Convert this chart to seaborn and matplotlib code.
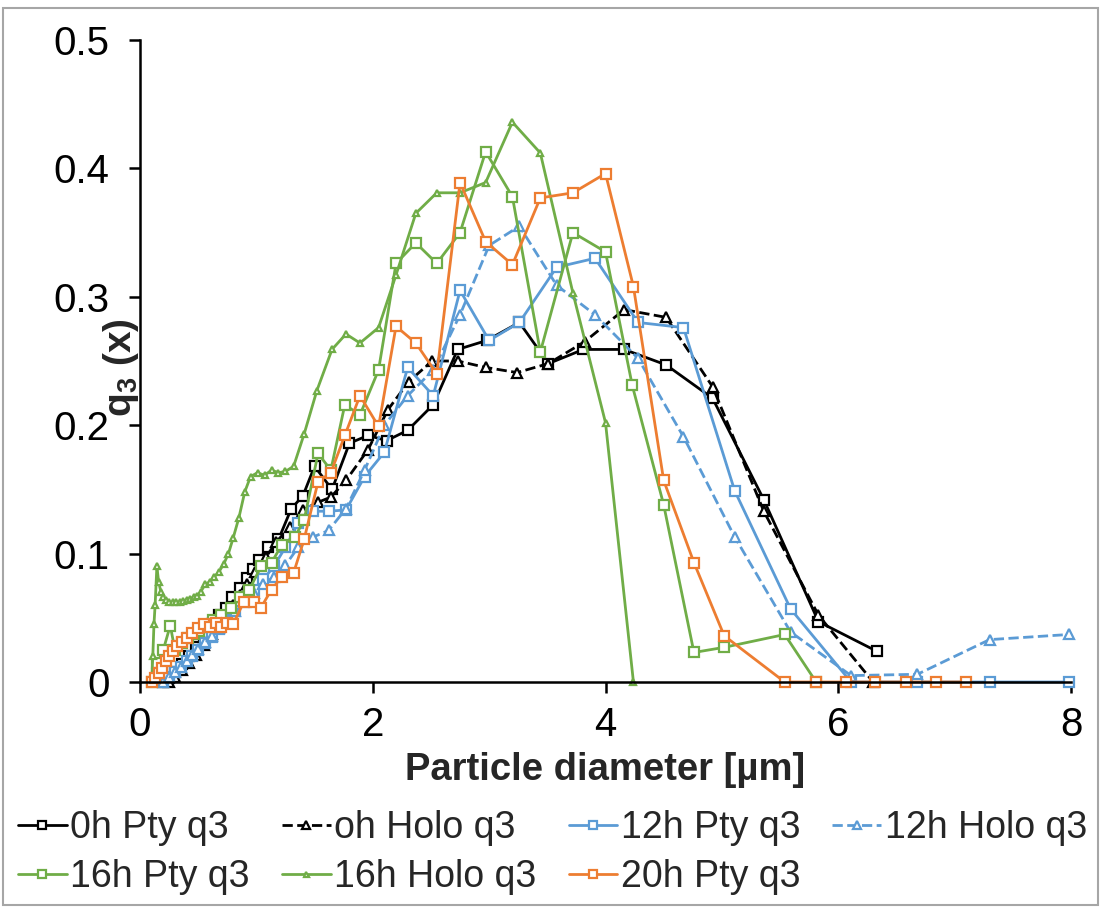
import matplotlib
matplotlib.use("Agg")
import matplotlib.pyplot as plt
import seaborn as sns
from matplotlib.patches import Rectangle

# --- data ---
x_0h_pty = [0.20, 0.25, 0.30, 0.36, 0.42, 0.48, 0.55, 0.62, 0.68, 0.74, 0.79, 0.86, 0.92, 0.97, 1.02,
            1.10, 1.19, 1.30, 1.40, 1.50, 1.65, 1.80, 1.96, 2.12, 2.30, 2.52, 2.73, 2.98, 3.26, 3.51,
            3.81, 4.16, 4.52, 4.92, 5.36, 5.83, 6.33]
y_0h_pty = [0.000, 0.003, 0.008, 0.014, 0.020, 0.027, 0.035, 0.045, 0.052, 0.058, 0.066, 0.073, 0.081,
            0.088, 0.095, 0.105, 0.111, 0.135, 0.145, 0.168, 0.150, 0.186, 0.192, 0.188, 0.196, 0.216,
            0.259, 0.266, 0.280, 0.248, 0.259, 0.259, 0.247, 0.221, 0.142, 0.047, 0.024]

x_0h_holo = [0.25, 0.30, 0.36, 0.42, 0.48, 0.55, 0.62, 0.68, 0.74, 0.80, 0.86, 0.92, 0.99, 1.08, 1.17,
             1.29, 1.40, 1.53, 1.64, 1.77, 1.96, 2.13, 2.31, 2.51, 2.73, 2.97, 3.24, 3.51, 3.82, 4.16,
             4.52, 4.92, 5.36, 5.83, 6.30]
y_0h_holo = [0.000, 0.004, 0.009, 0.015, 0.021, 0.029, 0.037, 0.045, 0.052, 0.060, 0.068, 0.076, 0.086,
             0.097, 0.109, 0.121, 0.134, 0.140, 0.144, 0.157, 0.181, 0.212, 0.234, 0.250, 0.250, 0.245,
             0.241, 0.248, 0.265, 0.290, 0.284, 0.230, 0.133, 0.052, 0.000]

x_12h = [0.20, 0.25, 0.30, 0.35, 0.40, 0.45, 0.50, 0.56, 0.62, 0.68, 0.75, 0.82, 0.90, 0.98, 1.06,
         1.15, 1.25, 1.36, 1.49, 1.62, 1.77, 1.93, 2.10, 2.30, 2.52, 2.75, 3.00, 3.26, 3.58, 3.91,
         4.28, 4.67, 5.11, 5.59, 6.11, 6.68, 7.30, 7.98]
y_12h_pty = [0.000, 0.004, 0.008, 0.012, 0.016, 0.020, 0.025, 0.030, 0.035, 0.041, 0.048, 0.055, 0.063,
             0.072, 0.080, 0.090, 0.105, 0.124, 0.133, 0.133, 0.134, 0.160, 0.179, 0.245, 0.223, 0.305,
             0.266, 0.280, 0.323, 0.330, 0.280, 0.276, 0.149, 0.057, 0.000, 0.000, 0.000, 0.000]
y_12h_holo = [0.000, 0.004, 0.008, 0.012, 0.016, 0.021, 0.026, 0.031, 0.036, 0.042, 0.048, 0.055, 0.062,
              0.069, 0.076, 0.082, 0.091, 0.105, 0.113, 0.118, 0.135, 0.165, 0.200, 0.223, 0.243, 0.286,
              0.340, 0.355, 0.309, 0.286, 0.252, 0.191, 0.113, 0.039, 0.005, 0.006, 0.033, 0.037]

x_16h_pty = [0.10, 0.15, 0.20, 0.26, 0.30, 0.36, 0.41, 0.46, 0.51, 0.57, 0.63, 0.70, 0.78, 0.86, 0.94,
             1.04, 1.13, 1.22, 1.33, 1.41, 1.53, 1.64, 1.76, 1.89, 2.05, 2.20, 2.37, 2.55, 2.75, 2.97,
             3.20, 3.44, 3.72, 4.00, 4.23, 4.50, 4.76, 5.02, 5.54, 5.81]
y_16h_pty = [0.000, 0.015, 0.025, 0.044, 0.025, 0.030, 0.034, 0.037, 0.040, 0.044, 0.048, 0.052, 0.058,
             0.066, 0.072, 0.090, 0.093, 0.107, 0.113, 0.126, 0.178, 0.165, 0.216, 0.208, 0.243, 0.326,
             0.342, 0.326, 0.350, 0.413, 0.378, 0.257, 0.350, 0.335, 0.231, 0.138, 0.023, 0.027, 0.037,
             0.000]

x_16h_holo = [0.10, 0.11, 0.12, 0.13, 0.145, 0.16, 0.18, 0.20, 0.22, 0.25, 0.28, 0.31, 0.34, 0.37, 0.40,
              0.43, 0.46, 0.49, 0.52, 0.56, 0.60, 0.64, 0.68, 0.72, 0.76, 0.80, 0.85, 0.90, 0.95, 1.01,
              1.07, 1.13, 1.19, 1.25, 1.32, 1.41, 1.52, 1.65, 1.77, 1.89, 2.05, 2.20, 2.37, 2.55, 2.75,
              2.97, 3.20, 3.44, 3.72, 4.00, 4.24]
y_16h_holo = [0.000, 0.020, 0.045, 0.060, 0.090, 0.078, 0.070, 0.066, 0.064, 0.062, 0.062, 0.062, 0.062,
              0.063, 0.064, 0.065, 0.066, 0.067, 0.070, 0.076, 0.078, 0.082, 0.086, 0.092, 0.100, 0.112,
              0.128, 0.148, 0.160, 0.163, 0.161, 0.165, 0.163, 0.164, 0.168, 0.193, 0.227, 0.259, 0.271,
              0.264, 0.276, 0.317, 0.365, 0.381, 0.381, 0.389, 0.436, 0.412, 0.303, 0.202, 0.000]

x_20h_pty = [0.10, 0.13, 0.16, 0.19, 0.22, 0.25, 0.28, 0.32, 0.36, 0.40, 0.45, 0.50, 0.55, 0.60, 0.65,
             0.70, 0.75, 0.80, 0.89, 0.98, 1.04, 1.13, 1.22, 1.32, 1.41, 1.53, 1.64, 1.76, 1.89, 2.05,
             2.20, 2.37, 2.55, 2.75, 2.97, 3.20, 3.44, 3.72, 4.00, 4.24, 4.50, 4.76, 5.02, 5.54, 5.81,
             6.07, 6.32, 6.58, 6.84, 7.10]
y_20h_pty = [0.000, 0.003, 0.007, 0.011, 0.016, 0.020, 0.024, 0.028, 0.031, 0.034, 0.038, 0.042, 0.045,
             0.043, 0.046, 0.043, 0.046, 0.045, 0.062, 0.062, 0.058, 0.072, 0.082, 0.085, 0.111, 0.156,
             0.163, 0.192, 0.223, 0.199, 0.277, 0.264, 0.240, 0.389, 0.343, 0.325, 0.377, 0.381, 0.396,
             0.308, 0.157, 0.093, 0.036, 0.000, 0.000, 0.000, 0.000, 0.000, 0.000, 0.000]

x_ticks = [0, 2, 4, 6, 8]
x_tick_labels = ["0", "2", "4", "6", "8"]
y_ticks = [0, 0.1, 0.2, 0.3, 0.4, 0.5]
y_tick_labels = ["0", "0.1", "0.2", "0.3", "0.4", "0.5"]

BLACK = "#000000"
BLUE = "#5B9BD5"
GREEN = "#70AD47"
ORANGE = "#ED7D31"

sns.set_style("ticks")
plt.rcParams["font.family"] = ["Liberation Sans", "DejaVu Sans"]
plt.rcParams["mathtext.fontset"] = "custom"
plt.rcParams["mathtext.rm"] = "Liberation Sans"
plt.rcParams["mathtext.bf"] = "Liberation Sans:bold"

fig = plt.figure(figsize=(11.01, 9.09), dpi=100)
ax = fig.add_axes([140 / 1101, 1 - 682 / 909, (1071 - 140) / 1101, (682 - 40) / 909])

series = [
    (x_0h_pty, y_0h_pty, "0h Pty q3", BLACK, "-", "s", 6.5),
    (x_0h_holo, y_0h_holo, "oh Holo q3", BLACK, "--", "^", 6.5),
    (x_12h, y_12h_pty, "12h Pty q3", BLUE, "-", "s", 6.5),
    (x_12h, y_12h_holo, "12h Holo q3", BLUE, "--", "^", 6.5),
    (x_16h_pty, y_16h_pty, "16h Pty q3", GREEN, "-", "s", 6.5),
    (x_16h_holo, y_16h_holo, "16h Holo q3", GREEN, "-", "^", 4.5),
    (x_20h_pty, y_20h_pty, "20h Pty q3", ORANGE, "-", "s", 6.5),
]

for xs, ys, name, col, ls, mk, ms in series:
    sns.lineplot(x=xs, y=ys, ax=ax, color=col, linestyle=ls, linewidth=2.0,
                 marker=mk, markersize=ms, markerfacecolor="white",
                 markeredgecolor=col, markeredgewidth=1.6, label=name,
                 estimator=None, sort=False, clip_on=False)

ax.set_xlim(0, 8)
ax.set_ylim(0, 0.5)
ax.set_xticks(x_ticks)
ax.set_xticklabels(x_tick_labels)
ax.set_yticks(y_ticks)
ax.set_yticklabels(y_tick_labels)
ax.tick_params(axis="both", labelsize=29, length=8, width=1.8, direction="out", colors="black")
ax.tick_params(axis="y", pad=14)
ax.tick_params(axis="x", pad=9)
for side in ["top", "right"]:
    ax.spines[side].set_visible(False)
for side in ["left", "bottom"]:
    ax.spines[side].set_linewidth(1.8)
    ax.spines[side].set_color("black")

ax.set_xlabel("Particle diameter [µm]", fontsize=27.5, fontweight="bold", labelpad=6)
ax.set_ylabel(r"$\mathbf{q_3}$ (x)", fontsize=28, fontweight="bold")
ax.yaxis.label.set_va("center")
ax.yaxis.set_label_coords(-0.0205, 0.49)

handles, labels = ax.get_legend_handles_labels()
ax.get_legend().remove()
order = [0, 4, 1, 5, 2, 6, 3]
fig.legend([handles[i] for i in order], [labels[i] for i in order],
           loc="upper left", bbox_to_anchor=(18 / 1101, 1 - 810 / 909), ncol=4,
           frameon=False, fontsize=27, handlelength=1.3, handletextpad=0.1,
           columnspacing=0.85, labelspacing=0.34, borderpad=0, borderaxespad=0,
           markerscale=0.8)

fig.add_artist(Rectangle((0.003, 0.004), 0.994, 0.987, transform=fig.transFigure,
                         fill=False, edgecolor="#A6A6A6", linewidth=1.5))

fig.savefig("out.png", dpi=100)
